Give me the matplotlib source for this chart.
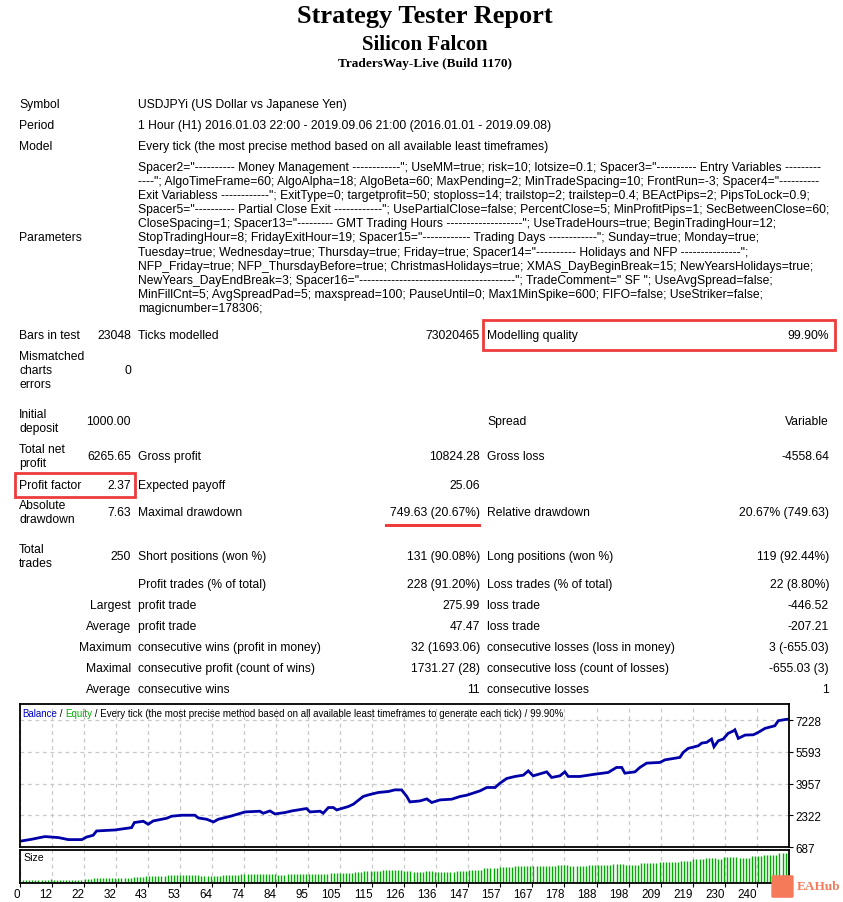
import numpy as np
import matplotlib
matplotlib.use("Agg")
import matplotlib.pyplot as plt
from matplotlib.patches import Rectangle, FancyBboxPatch

# report header
title = "Strategy Tester Report"
expert = "Silicon Falcon"
server = "TradersWay-Live (Build 1170)"

header_labels = ["Symbol", "Period", "Model"]
header_values = [
    "USDJPYi (US Dollar vs Japanese Yen)",
    "1 Hour (H1) 2016.01.03 22:00 - 2019.09.06 21:00 (2016.01.01 - 2019.09.08)",
    "Every tick (the most precise method based on all available least timeframes)",
]

param_lines = [
    'Spacer2="---------- Money Management ------------"; UseMM=true; risk=10; lotsize=0.1; Spacer3="---------- Entry Variables ---------',
    '----"; AlgoTimeFrame=60; AlgoAlpha=18; AlgoBeta=60; MaxPending=2; MinTradeSpacing=10; FrontRun=-3; Spacer4="----------',
    'Exit Variabless ------------"; ExitType=0; targetprofit=50; stoploss=14; trailstop=2; trailstep=0.4; BEActPips=2; PipsToLock=0.9;',
    'Spacer5="---------- Partial Close Exit ------------"; UsePartialClose=false; PercentClose=5; MinProfitPips=1; SecBetweenClose=60;',
    'CloseSpacing=1; Spacer13="--------- GMT Trading Hours -------------------"; UseTradeHours=true; BeginTradingHour=12;',
    'StopTradingHour=8; FridayExitHour=19; Spacer15="------------ Trading Days ------------"; Sunday=true; Monday=true;',
    'Tuesday=true; Wednesday=true; Thursday=true; Friday=true; Spacer14="---------- Holidays and NFP ---------------";',
    'NFP_Friday=true; NFP_ThursdayBefore=true; ChristmasHolidays=true; XMAS_DayBeginBreak=15; NewYearsHolidays=true;',
    'NewYears_DayEndBreak=3; Spacer16="---------------------------------------"; TradeComment=" SF "; UseAvgSpread=false;',
    'MinFillCnt=5; AvgSpreadPad=5; maxspread=100; PauseUntil=0; Max1MinSpike=600; FIFO=false; UseStriker=false;',
    'magicnumber=178306;',
]

stat_rows = [
    ("Bars in test", "23048", "Ticks modelled", "73020465", "Modelling quality", "99.90%"),
    ("Mismatched\ncharts\nerrors", "0", "", "", "", ""),
    ("Initial\ndeposit", "1000.00", "", "", "Spread", "Variable"),
    ("Total net\nprofit", "6265.65", "Gross profit", "10824.28", "Gross loss", "-4558.64"),
    ("Profit factor", "2.37", "Expected payoff", "25.06", "", ""),
    ("Absolute\ndrawdown", "7.63", "Maximal drawdown", "749.63 (20.67%)", "Relative drawdown", "20.67% (749.63)"),
    ("Total\ntrades", "250", "Short positions (won %)", "131 (90.08%)", "Long positions (won %)", "119 (92.44%)"),
    ("", "", "Profit trades (% of total)", "228 (91.20%)", "Loss trades (% of total)", "22 (8.80%)"),
    ("", "Largest", "profit trade", "275.99", "loss trade", "-446.52"),
    ("", "Average", "profit trade", "47.47", "loss trade", "-207.21"),
    ("", "Maximum", "consecutive wins (profit in money)", "32 (1693.06)", "consecutive losses (loss in money)", "3 (-655.03)"),
    ("", "Maximal", "consecutive profit (count of wins)", "1731.27 (28)", "consecutive loss (count of losses)", "-655.03 (3)"),
    ("", "Average", "consecutive wins", "11", "consecutive losses", "1"),
]

# balance curve (trade number, balance)
trade_no = [0, 3.8, 8.1, 12.5, 15.7, 20.1, 21.7, 23.8, 24.9, 30.9, 36.3, 37.2, 40.1, 41.7,
            43.3, 47.7, 49.3, 52.6, 56.9, 58.0, 60.7, 62.9, 64.5, 68.8, 73.2, 78.0, 79.1,
            81.3, 82.9, 86.2, 88.4, 93.2, 94.3, 97.6, 98.6, 100.3, 101.9, 103.0, 106.8,
            108.4, 111.6, 113.3, 116.5, 119.8, 121.9, 124.1, 125.8, 126.8, 130.1, 132.3,
            133.9, 136.6, 140.4, 143.1, 145.3, 149.6, 151.8, 154.5, 156.1, 158.3, 161.0,
            163.7, 165.3, 166.9, 171.3, 172.9, 175.6, 177.2, 178.3, 182.1, 186.4, 191.3,
            194.0, 195.7, 196.7, 200.0, 201.6, 203.8, 208.1, 209.8, 214.6, 215.7, 217.3,
            220.6, 221.7, 223.3, 224.9, 225.7, 227.1, 228.7, 230.3, 231.9, 232.5, 233.6,
            235.8, 238.5, 240.1, 242.3, 245.5, 246.6, 249.3, 250]
balance = [1000, 1100, 1238, 1187, 1083, 1083, 1217, 1305, 1527, 1578, 1700, 1960, 2026, 1871,
           2041, 2180, 2284, 2335, 2335, 2196, 2129, 1990, 2129, 2299, 2505, 2541, 2438,
           2556, 2402, 2474, 2556, 2680, 2505, 2541, 2438, 2731, 2731, 2608, 2783,
           2901, 3298, 3380, 3504, 3555, 3638, 3638, 3298, 3020, 3071, 3174,
           2989, 3123, 3159, 3298, 3365, 3587, 3761, 3761, 3983, 4225, 4328,
           4395, 4616, 4359, 4565, 4276, 4359, 4565, 4328, 4328, 4431, 4534,
           4791, 4791, 4498, 4565, 4791, 5013, 5049, 5183, 5306, 5564, 5770,
           5904, 6043, 6079, 6249, 5852, 6161, 6249, 6543, 6661, 6728, 6285,
           6455, 6470, 6594, 6800, 6934, 7192, 7266, 7266]

# lot size per trade, as runs of (number of trades, size)
size_counts = [9, 1, 10, 3, 13, 4, 1, 6, 11, 7, 6, 12, 3, 14, 8, 3, 3, 3, 7, 3, 4, 3, 7, 4,
               5, 5, 5, 14, 4, 6, 8, 4, 5, 6, 7, 4, 4, 4, 2, 5, 4, 4, 5, 4]
size_lots = [0.08, 0.11, 0.08, 0.10, 0.14, 0.17, 0.20, 0.19, 0.23, 0.20, 0.23, 0.26, 0.23,
             0.26, 0.29, 0.30, 0.33, 0.35, 0.38, 0.35, 0.32, 0.35, 0.32, 0.35, 0.38, 0.41,
             0.44, 0.49, 0.52, 0.47, 0.50, 0.55, 0.50, 0.56, 0.59, 0.64, 0.68, 0.73, 0.70,
             0.76, 0.73, 0.77, 0.81, 0.86]

y_ticks = [687, 2322, 3957, 5593, 7228]
x_labels = ["0", "12", "22", "32", "43", "53", "64", "74", "84", "95", "105", "115", "126",
            "136", "147", "157", "167", "178", "188", "198", "209", "219", "230", "240"]
total_trades = 250

W, H = 843, 903
fig = plt.figure(figsize=(W / 100, H / 100), dpi=100)
fig.patch.set_facecolor("white")
FONT = "Liberation Sans"
FS = 8.7


def put(x, y, s, ha="left", **kw):
    kw.setdefault("family", FONT)
    kw.setdefault("fontsize", FS)
    return fig.text(x / W, 1 - y / H, s, ha=ha, va="center", **kw)


put(425, 17, title, ha="center", family="Liberation Serif", fontsize=19, weight="bold")
put(425, 45, expert, ha="center", family="Liberation Serif", fontsize=15, weight="bold")
put(425, 64, server, ha="center", family="Liberation Serif", fontsize=9.6, weight="bold")

for lab, val, y in zip(header_labels, header_values, [105, 126, 147]):
    put(19, y, lab)
    put(138, y, val)

for i, line in enumerate(param_lines):
    put(138, 168 + i * 14.1, line)
put(19, 238, "Parameters")

row_y = [336, 371, 422, 457, 486, 513, 557, 585, 606, 627, 648, 669, 690]
for row, y in zip(stat_rows, row_y):
    put(19, y, row[0], linespacing=1.2)
    put(131, y, row[1], ha="right")
    put(138, y, row[2])
    put(480, y, row[3], ha="right")
    put(487, y, row[4])
    put(829, y, row[5], ha="right")

# red highlights
red = "#ee3b3b"
fig.add_artist(Rectangle((483 / W, 1 - 351 / H), 352 / W, 30 / H, transform=fig.transFigure,
                         fill=False, ec=red, lw=2))
fig.add_artist(Rectangle((15 / W, 1 - 498 / H), 120 / W, 24 / H, transform=fig.transFigure,
                         fill=False, ec=red, lw=2))
fig.add_artist(Rectangle((385 / W, 1 - 528 / H), 96 / W, 3 / H, transform=fig.transFigure,
                         fc=red, ec="none"))

# balance chart
grid_kw = dict(color="#c8c8c8", linestyle=(0, (3, 3)), linewidth=0.9)
x_pos = np.arange(len(x_labels)) * total_trades / 24

ax = fig.add_axes([20 / W, (H - 848.3) / H, 768.7 / W, (848.3 - 705) / H])
ax.plot(trade_no, balance, color="#0000a8", lw=2.0, solid_joinstyle="miter")
ax.set_xlim(0, total_trades)
ax.set_ylim(687, 8052)
ax.set_yticks(y_ticks)
ax.set_yticklabels([str(v) for v in y_ticks], family=FONT, fontsize=8.4)
ax.yaxis.tick_right()
ax.tick_params(axis="y", length=3, width=0.8, pad=2)
ax.set_xticks(x_pos)
ax.tick_params(axis="x", length=0, labelbottom=False)
ax.grid(True, **grid_kw)
for s in ax.spines.values():
    s.set_linewidth(1.3)

leg_parts = [("Balance", "#0000c8"), (" / ", "black"), ("Equity", "#00b000"),
             (" / Every tick (the most precise method based on all available least timeframes to generate each tick) / 99.90%", "black")]
r = fig.canvas.get_renderer()
x0 = 22
for txt, col in leg_parts:
    t = put(x0, 714, txt, color=col, fontsize=7.0)
    x0 += t.get_window_extent(renderer=r).width

# lot size panel
ax2 = fig.add_axes([20 / W, (H - 883.5) / H, 768.7 / W, (883.5 - 850.7) / H])
sizes = np.repeat(size_lots, size_counts)
ax2.vlines(np.arange(1, len(sizes) + 1), 0, sizes, colors="#00aa00", linewidth=1.0)
ax2.set_xlim(0, total_trades)
ax2.set_ylim(0, max(size_lots) * 96 / 86)
ax2.set_yticks([])
ax2.set_xticks(x_pos)
ax2.set_xticklabels(x_labels, family=FONT, fontsize=8.4, ha="right")
ax2.tick_params(axis="x", length=3, width=0.8, pad=1)
ax2.grid(True, axis="x", **grid_kw)
for s in ax2.spines.values():
    s.set_linewidth(1.3)
ax2.text(0.004, 0.78, "Size", transform=ax2.transAxes, family=FONT, fontsize=7.6, va="center")

# watermark
fig.add_artist(FancyBboxPatch((773 / W, 1 - 897 / H), 19 / W, 19 / H, transform=fig.transFigure,
                              boxstyle="round,pad=0.002", fc="#f47a5a", ec="none"))
put(797, 887, "EAHub", color="#f47a5a", family="Liberation Serif", fontsize=9.5, weight="bold")

fig.savefig("out.png", dpi=100, facecolor="white")
